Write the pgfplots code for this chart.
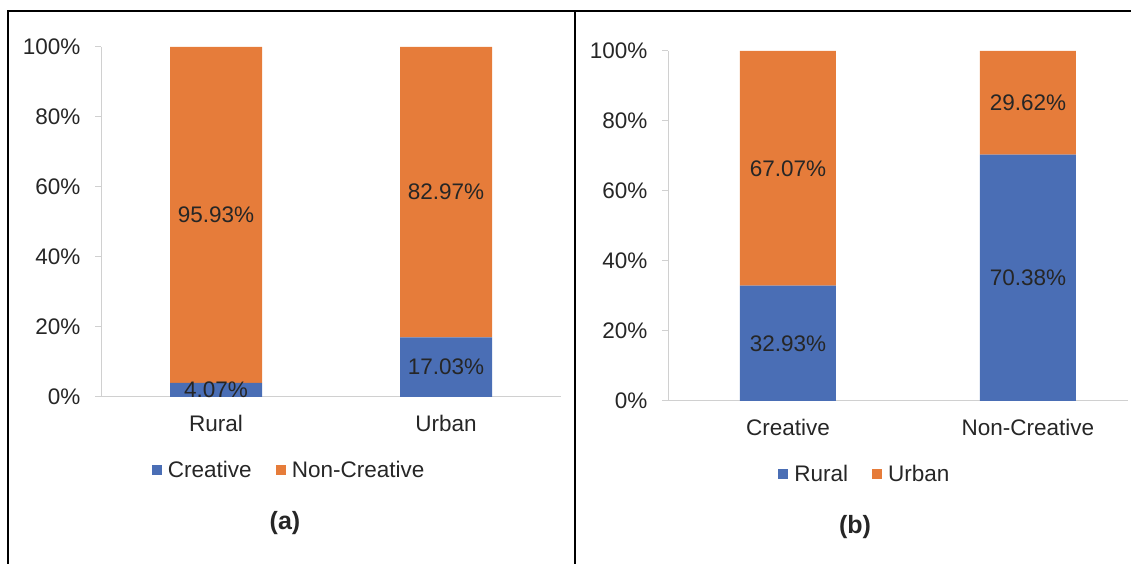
\documentclass[border=0pt]{standalone}
\usepackage{pgfplots}
\pgfplotsset{compat=1.18}
\usepackage{fontspec}
\setmainfont{Liberation Sans}

\definecolor{xblue}{HTML}{4A6EB5}
\definecolor{xorange}{HTML}{E67C3A}
\definecolor{axgray}{HTML}{D0D0D0}
\definecolor{txt}{HTML}{262626}

\newcommand{\bigfont}{\fontsize{22.5}{27}\selectfont}

\pgfplotsset{
  panel/.style={
    scale only axis, width=460pt, height=350pt,
    anchor=south west,
    ymin=0, ymax=100, ytick={0,20,...,100},
    xmin=-0.5, xtick={0,1},
    axis x line=bottom, axis y line=left,
    axis line style={draw=axgray, line width=1pt, -},
    ytick style={draw=axgray, line width=1pt},
    major tick length=6pt, tick align=outside,
    xtick style={draw=none},
    yticklabel={\pgfmathprintnumber{\tick}\%},
    /pgf/number format/assume math mode=true,
    tick label style={font=\bigfont, text=txt},
    yticklabel style={xshift=-11pt},
    xticklabel style={yshift=-9pt},
    ybar stacked, bar width=0.4,
    legend style={draw=none, legend columns=2, font=\bigfont, text=txt,
      anchor=center,
      /tikz/every odd column/.append style={column sep=4pt},
      /tikz/every even column/.append style={column sep=22pt}},
    legend image code/.code={\fill[##1] (0pt,-5pt) rectangle (10pt,5pt);},
  },
  labels/.style={
    scale only axis, width=460pt, height=350pt, anchor=south west,
    ymin=0, ymax=100, xmin=-0.5, hide axis,
    every node near coord/.append style={anchor=center, font=\bigfont, text=txt},
  },
}

\begin{document}
\begin{tikzpicture}[x=1pt, y=1pt]
\path[use as bounding box] (0,0) rectangle (1131,564);
\draw[line width=2.5pt] (8,-5) -- (8,553) -- (1140,553);
\draw[line width=2.5pt] (575,553) -- (575,-5);

% panel (a)
\begin{axis}[panel, at={(101pt,167pt)}, xmax=1.5,
  xticklabels={Rural,Urban},
  legend style={at={(0.409,-0.2086)}}]
\addplot[fill=xblue, draw=none] coordinates {(0,4.07) (1,17.03)};
\addplot[fill=xorange, draw=none] coordinates {(0,95.93) (1,82.97)};
\legend{Creative, Non-Creative}
\end{axis}
\begin{axis}[labels, at={(101pt,167pt)}, xmax=1.5]
\addplot[draw=none, nodes near coords={\pgfplotspointmeta\%}, point meta=explicit symbolic]
  table[x=x, y=y, meta=lab] {
x y lab
0 2.035 4.07
0 52.035 95.93
1 8.515 17.03
1 58.515 82.97
};
\end{axis}

% panel (b)
\begin{axis}[panel, at={(668pt,163pt)}, xmax=1.417,
  xticklabels={Creative,Non-Creative},
  legend style={at={(0.428,-0.2086)}}]
\addplot[fill=xblue, draw=none] coordinates {(0,32.93) (1,70.38)};
\addplot[fill=xorange, draw=none] coordinates {(0,67.07) (1,29.62)};
\legend{Rural, Urban}
\end{axis}
\begin{axis}[labels, at={(668pt,163pt)}, xmax=1.417]
\addplot[draw=none, nodes near coords={\pgfplotspointmeta\%}, point meta=explicit symbolic]
  table[x=x, y=y, meta=lab] {
x y lab
0 16.465 32.93
0 66.465 67.07
1 35.19 70.38
1 85.19 29.62
};
\end{axis}

\node[font=\bfseries\fontsize{25}{30}\selectfont, text=txt] at (285,41) {(a)};
\node[font=\bfseries\fontsize{25}{30}\selectfont, text=txt] at (855,37) {(b)};
\end{tikzpicture}
\end{document}
